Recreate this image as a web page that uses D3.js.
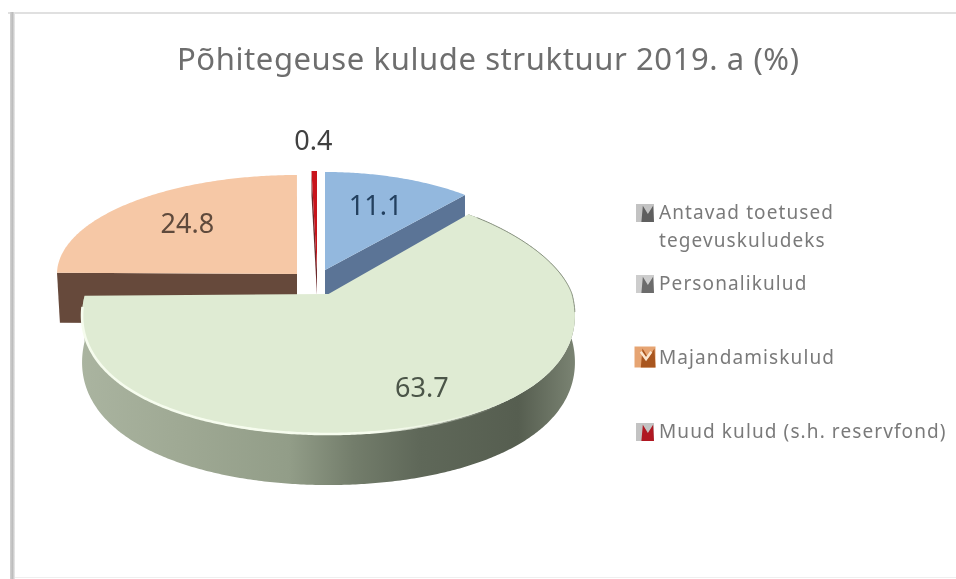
<!DOCTYPE html>
<html><head><meta charset="utf-8">
<script src="https://cdn.jsdelivr.net/npm/d3@7"></script>
<style>
html,body{margin:0;padding:0;background:#fff}
svg{display:block;filter:blur(0.6px)}
text{font-family:"Noto Sans","Open Sans",sans-serif}
</style></head><body><div id="c"></div>
<script>
const titleText = "Põhitegeuse kulude struktuur 2019. a (%)";
const sliceNames = ["Antavad toetused tegevuskuludeks","Personalikulud","Majandamiskulud","Muud kulud (s.h. reservfond)"];
const values = [11.1, 63.7, 24.8, 0.4];
const legendLines = [["Antavad toetused","tegevuskuludeks"],["Personalikulud"],["Majandamiskulud"],["Muud kulud (s.h. reservfond)"]];

const W=956,H=579;
// projection frame of each exploded slice
const frames=[
 {cx:325,cy:270,rx:218,ryB:98,ryF:98,k:0,rot:0,depth:50,skew:0,lab:.68,ldy:-2,top:"#93b8de",wall:"#5b7496",text:"#23405f"},
 {cx:328.5,cy:294,rx:243.5,ryB:104,ryF:140,k:.154,rot:0,depth:46,skew:0,lab:.77,ldy:-4,top:"#dfebd3",wall:"url(#gWall)",text:"#4b5548"},
 {cx:297,cy:274,rx:240,ryB:99,ryF:99,k:0,rot:.025,depth:50,skew:.06,lab:.65,ldy:-5,top:"#f6c8a6",wall:"#66493b",text:"#5f4a3c"},
 {cx:317,cy:270,rx:218,ryB:99,ryF:99,k:0,rot:0,depth:25,skew:0,lab:1.31,ldy:0,top:"#c8141c",wall:"#6b2a2c",text:"#404040"}
];
function proj(f,a0,r=1,dy=0){
  const a=a0+f.rot,c=Math.cos(a),s=Math.sin(a);
  const ry=c>0?f.ryB:f.ryF+dy*0.11;
  return [f.cx+r*f.rx*s/(1+f.k*c), f.cy+dy-r*ry*c];
}
const pie=d3.pie().sort(null).value(d=>d);
const arcs=pie(values);
const line=d3.line();
const svg=d3.select("#c").append("svg").attr("width",W).attr("height",H).attr("viewBox",[0,0,W,H]);
const defs=svg.append("defs");
const gw=defs.append("linearGradient").attr("id","gWall").attr("gradientUnits","userSpaceOnUse")
 .attr("x1",80).attr("x2",578).attr("y1",0).attr("y2",0);
[[0,"#aab4a0"],[.2,"#9fa994"],[.42,"#929d88"],[.55,"#737d6b"],[.68,"#5f6859"],[.88,"#565e50"],[1,"#7c8574"]]
 .forEach(([o,c])=>gw.append("stop").attr("offset",o).attr("stop-color",c));
const gf=defs.append("linearGradient").attr("id","gFrame");
[[0,"#d2d2d2"],[.5,"#bdbdbd"],[1,"#ececec"]].forEach(([o,c])=>gf.append("stop").attr("offset",o).attr("stop-color",c));
const gr=defs.append("linearGradient").attr("id","gRim").attr("gradientUnits","userSpaceOnUse")
 .attr("x1",80).attr("x2",578).attr("y1",0).attr("y2",0);
[[0,"#f6fcee",1],[.6,"#f6fcee",1],[.85,"#f6fcee",0]].forEach(([o,c,a])=>gr.append("stop").attr("offset",o).attr("stop-color",c).attr("stop-opacity",a));

// frame
svg.append("rect").attr("x",8).attr("y",12).attr("width",948).attr("height",2).attr("fill","#e0e0e0");
svg.append("rect").attr("x",10).attr("y",12).attr("width",5).attr("height",567).attr("fill","url(#gFrame)");
svg.append("rect").attr("x",15).attr("y",577).attr("width",941).attr("height",1).attr("fill","#efefef");

// title
svg.append("text").attr("x",488).attr("y",70).attr("text-anchor","middle")
 .attr("font-size",31).attr("textLength",622).attr("fill","#6e6e6e").text(titleText);

function rim(f,d,dy=0){return d3.range(d.startAngle,d.endAngle,0.01).concat(d.endAngle).map(a=>proj(f,a,1,dy));}
const order=[3,0,2,1];
order.forEach(i=>{
  const f=frames[i],d=arcs[i],g=svg.append("g");
  const apex=[f.cx,f.cy];
  if(i===1){
    const top=rim(f,d),bot=rim(f,d,f.depth);
    g.append("path").attr("d",line(top.concat(bot.reverse()))+"Z").attr("fill",f.wall);
  } else {
    const a=proj(f,i===0?d.endAngle:d.startAngle);
    const down=p=>[p[0]+(f.cx-p[0])*f.skew*.2,p[1]+f.depth];
    g.append("path").attr("d",line([a,apex,down(apex),down(a)])+"Z").attr("fill",f.wall);
  }
  g.append("path").attr("d",line([apex,...rim(f,d)])+"Z").attr("fill",f.top);
  if(i===1){
    g.append("path").attr("d",line(rim(f,{startAngle:d.startAngle+.05,endAngle:1.7}))).attr("fill","none").attr("stroke","#8a9482").attr("stroke-width",1);
    g.append("path").attr("d",line(rim(f,{startAngle:1.7,endAngle:d.endAngle-.08}))).attr("fill","none").attr("stroke","url(#gRim)").attr("stroke-width",2.6);
  }
});

// data labels
arcs.forEach((d,i)=>{
  const f=frames[i],p=proj(f,(d.startAngle+d.endAngle)/2,f.lab);
  svg.append("text").attr("x",p[0]).attr("y",p[1]+f.ldy).attr("dy","0.35em").attr("text-anchor","middle")
   .attr("font-size",27).attr("fill",f.text).text(d3.format(".1f")(d.value));
});

// legend
const markerCols=[["#bdbdbd","#5f5f5f"],["#c8c8c8","#6b6b6b"],["#e39a63","#a9561f"],["#bcbcbc","#b01822"]];
const legendBase=[213,284,358,432];
legendLines.forEach((ls,i)=>{
  const y=legendBase[i],g=svg.append("g");
  ls.forEach((t,j)=>g.append("text").attr("x",659).attr("y",y+j*28+6).attr("font-size",19)
    .attr("letter-spacing",1.1).attr("fill","#7a7a7a").text(t));
  const [l,dk]=markerCols[i];
  const s=i===2?21:18, x=645-s/2, ty=y-s/2+(i===2?-1:0);
  g.append("rect").attr("x",x).attr("y",ty).attr("width",s).attr("height",s).attr("fill",l).attr("opacity",.9);
  g.append("path").attr("d",line([[x+s*.3,ty+s],[x+s*.38,ty+s*.1],[x+s*.66,ty+s*.55],[x+s*.95,ty+s*.1],[x+s,ty+s]])+"Z").attr("fill",dk);
  if(i===2) g.append("path").attr("d",line([[x+s*.3,ty+s*.25],[x+s*.55,ty+s*.6],[x+s*.8,ty+s*.25]])).attr("fill","none").attr("stroke","#fbe6cf").attr("stroke-width",2.5);
});
</script></body></html>
